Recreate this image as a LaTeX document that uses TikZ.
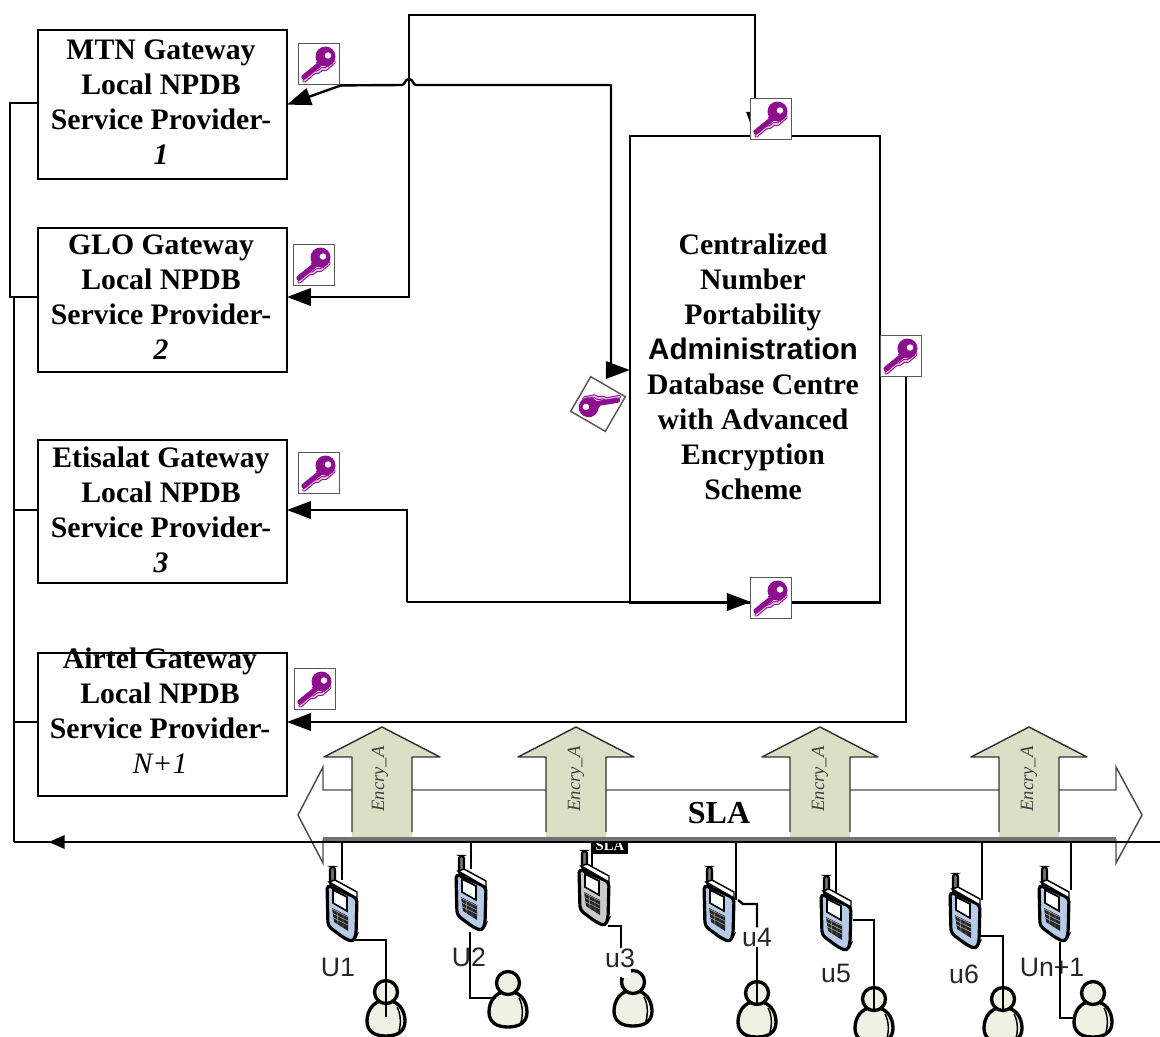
\documentclass[tikz,border=0pt]{standalone}
\usepackage{fontspec}
\setmainfont{Liberation Serif}
\newfontfamily\arialfont{Liberation Sans}
\usetikzlibrary{arrows.meta,calc,backgrounds}
\definecolor{keypurple}{HTML}{8E0F8E}
\definecolor{keylight}{HTML}{E3BEE3}
\definecolor{arrowfill}{HTML}{DADFC6}
\definecolor{phoneblue}{HTML}{B5CBE8}
\definecolor{phonegray}{HTML}{C9C9C9}
\definecolor{skin}{HTML}{EFF1E4}
\tikzset{
  line/.style={draw=black,line width=1.8pt},
  arr/.style={line,-{Triangle[length=18pt,width=13pt]},shorten >=-1pt},
  gwbox/.style={draw=black,line width=1.8pt,minimum width=187pt,anchor=north west,inner sep=0pt},
  boxtext/.style={font=\fontsize{22.3}{26.25}\selectfont\bfseries,align=center,inner sep=0pt},
  keybox/.style={draw=black!65,fill=white,line width=1.1pt,minimum size=31pt,inner sep=0pt},
  ghost/.style={inner sep=0pt,minimum width=25pt,minimum height=46pt},
  ughost/.style={inner sep=0pt,minimum size=18pt,circle},
  ulabel/.style={font=\arialfont\fontsize{20}{20}\selectfont,inner sep=0pt,text=black!85},
  encry/.style={font=\fontsize{14}{14}\selectfont\itshape,rotate=90,text=black!75,inner sep=0pt},
  keyglyph/.pic={
    \draw[keypurple,line width=2.8pt,line cap=round,line join=round] (-15,17)--(-5,8.5)--(-1,8)--(3,5)--(7,5)--(15,-2);
    \draw[keylight,line width=1.2pt,line cap=round,line join=round] (-15,17)--(-5,8.5)--(-1,8)--(3,5)--(7,5)--(15,-2);
    \draw[keypurple,line width=3.9pt,line cap=round] (-15,13)--(1,0);
    \fill[keypurple] (6.5,-7.5) circle[radius=10];
    \fill[keypurple] (-3,-1) -- (2,-12) -- (10,3) -- cycle;
    \fill[white] (9,-8.5) circle[radius=3.2];
  },
  uparrow/.pic={
    \fill[arrowfill] (-30,111)--(-30,30)--(-58,30)--(0,0)--(58,30)--(30,30)--(30,111)--cycle;
    \draw[black!80,line width=1.1pt,line join=round] (-30,105)--(-30,30)--(-58,30)--(0,0)--(58,30)--(30,30)--(30,105);
  },
  phone/.pic={
    \draw[black,line width=1.6pt,rounded corners=2pt,fill=black!55] (-12,-25)--(-12,-44)--(-7,-44)--(-7,-25)--cycle;
    \draw[black,line width=2.4pt,rounded corners=3pt,fill=\pgfkeysvalueof{/tikz/phonecol}] (-15,-26)--(15,-13)--(14,24)--(11,31)--(2,27)--(-14,15)--cycle;
    \draw[black,line width=1.1pt,fill=white] (-13,-29)--(-7,-31)--(15,-19)--(15,-13)--cycle;
    \draw[black,line width=1.2pt,fill=white] (-9,-21)--(5,-14)--(5,0)--(-9,-8)--cycle;
    \fill[black!85] (-10,-3)--(6,5)--(6,20)--(-8,11)--cycle;
    \foreach \d in {1,5,9} { \draw[white!70!black,line width=.35pt] (-10,-3+\d)--(6,5+\d); }
    \draw[white!70!black,line width=.35pt] (-5,-1)--(-4,14) (1,2)--(1,17);
  },
  person/.pic={
    \draw[black,line width=2.5pt,fill=skin] (-3,9) .. controls (-12,9) and (-19,18) .. (-19,29)
      .. controls (-19,39) and (-12,44) .. (0,44) .. controls (12,44) and (19,39) .. (19,29)
      .. controls (19,18) and (12,9) .. (3,9) -- cycle;
    \draw[black,line width=1.1pt] (11,15) .. controls (15,22) and (15,32) .. (13,39);
    \draw[black,line width=2.5pt,fill=skin] (0,0) circle[radius=11.5];
  },
  phonecol/.initial=phoneblue,
}
\begin{document}
\begin{tikzpicture}[x=0.75pt,y=-0.75pt]
\clip (0,0) rectangle (1160,1036);
% gateway boxes
\node[gwbox,minimum height=111.75pt] (b1) at (36.5,28.5) {};
\node[gwbox,minimum height=108pt] (b2) at (36.5,226.5) {};
\node[gwbox,minimum height=107.25pt] (b3) at (36.5,438.5) {};
\node[gwbox,minimum height=107.25pt] (b4) at (36.5,651.5) {};
\node[boxtext] (t1) at (161,102) {MTN Gateway\\Local NPDB\\Service Provider-\\\textit{1}};
\node[boxtext] (t2) at (161,297) {GLO Gateway\\Local NPDB\\Service Provider-\\\textit{2}};
\node[boxtext] (t3) at (161,510) {Etisalat Gateway\\Local NPDB\\Service Provider-\\\textit{3}};
\node[boxtext] (t4) at (160,711) {Airtel Gateway\\Local NPDB\\Service Provider-\\\textmd{\textit{N+1}}};
% centre box
\node[draw=black,line width=1.8pt,minimum width=187.5pt,minimum height=350pt,anchor=north west,inner sep=0pt] (c) at (628.5,134.5) {};
\node[boxtext] (ct) at (753,367) {Centralized\\Number\\Portability\\{\arialfont Administration}\\Database Centre\\with Advanced\\Encryption\\Scheme};
% key boxes
\node[keybox] (k1) at (319,64) {};
\node[keybox] (k2) at (314,265) {};
\node[keybox] (k3) at (319,473) {};
\node[keybox] (k4) at (315,689) {};
\node[keybox] (k5) at (771,119) {};
\node[keybox] (k6) at (901,356) {};
\node[keybox] (k7) at (771,598) {};
\node[keybox,rotate=-30,minimum size=30pt] (k8) at (598,404) {};
% junction coordinates
\coordinate (j1) at (611,85);
\coordinate (j1b) at (611,370);
\coordinate (j2) at (409,15);
\coordinate (j2b) at (409,297);
\coordinate (j3) at (407,510);
\coordinate (j3b) at (407,602);
\coordinate (j4) at (906,722);
\coordinate (busL) at (14,842);
\coordinate (busR) at (1160,842);
\coordinate (busA) at (50,842);
% connectors among boxes
\begin{scope}[on background layer]
\draw[arr] (342,85) -- (b1.east);
\draw[line,line join=round] (k1.south east) -- (402,85) .. controls (405,85) and (405,79) .. (409,79) .. controls (413,79) and (413,85) .. (416,85) -- (j1) -- (j1b);
\draw[arr] (j1b) -- (c.west |- j1b);
\draw[arr] (k5.north -| 755,0) |- (j2) -- (j2b) -- (b2.east |- j2b);
\draw[arr] (755,100) -- (c.north -| 755,0);
\draw[arr] (j3b) -- (j3) -- (b3.east |- j3);
\draw[arr] (j3b) -- (k7.west |- j3b);
\draw[line] (k7.east |- j3b) -- (c.east |- j3b);
\draw[arr] (k6.south -| j4) -- (j4) -- (b4.east |- j4);
% left bus
\draw[line] (b1.west |- 0,103) -- (10,103) -- (10,297) -- (b2.west |- 0,297);
\draw[line] (14,297) -- (busL);
\draw[line] (14,510) -- (b3.west |- 0,510);
\draw[line] (14,722) -- (b4.west |- 0,722);
\end{scope}
% key glyphs
\foreach \k in {k1,k2,k3,k4,k5,k6,k7} { \pic at (\k) {keyglyph}; }
\pic[rotate=150] at (k8) {keyglyph};
% SLA arrow
\draw[black!70,fill=white,line width=1.1pt,line join=miter]
  (323,790)--(323,767)--(298,815)--(323,863)--(323,840)--(1116,840)--(1116,863)--(1142,815)--(1116,767)--(1116,790)--cycle;
\node[font=\fontsize{24}{24}\selectfont\bfseries,inner sep=0pt] (sla) at (719,813) {SLA};
% up arrows
\pic at (382,727) {uparrow};
\pic at (576,727) {uparrow};
\pic at (820,727) {uparrow};
\pic at (1029,727) {uparrow};
\node[encry] (e1) at (380,779) {Encry\_A};
\node[encry] (e2) at (576,779) {Encry\_A};
\node[encry] (e3) at (820,779) {Encry\_A};
\node[encry] (e4) at (1029,779) {Encry\_A};
% small SLA tag
\node[fill=black,text=white,font=\fontsize{11}{11}\selectfont\bfseries,inner sep=1.5pt,minimum width=27pt,minimum height=12pt] (tag) at (610,846) {SLA};
% bus
\draw[black!55,line width=2.5pt] (323,839) -- (1116,839);
\draw[arr,-{Triangle[length=12pt,width=10pt]}] (busR) -- (busA);
\draw[line] (busA) -- (busL);
% phones (anchors), persons
\node[ghost] (ph1) at (342,911) {};
\node[ghost] (ph2) at (471,900) {};
\node[ghost] (ph3) at (594,895) {};
\node[ghost] (ph4) at (719,911) {};
\node[ghost] (ph5) at (836,920) {};
\node[ghost] (ph6) at (965,918) {};
\node[ghost] (ph7) at (1054,911) {};
\node[ughost] (pe1) at (386,992) {};
\node[ughost] (pe2) at (508,983) {};
\node[ughost] (pe3) at (633,982) {};
\node[ughost] (pe4) at (757,993) {};
\node[ughost] (pe5) at (874,999) {};
\node[ughost] (pe6) at (1003,999) {};
\node[ughost] (pe7) at (1093,993) {};
% bus drops
\draw[line] (ph1.center |- busL) -- (ph1.north);
\draw[line] (ph2.center |- busL) -- (ph2.north);
\draw[line] (592,842) -- (592,866);
\draw[line] (ph4.east |- busL) -- (ph4.east |- 0,900);
\draw[line] (ph5.center |- busL) -- (ph5.center |- 0,895);
\draw[line] (ph6.east |- busL) -- (ph6.east |- 0,900);
\draw[line] (ph7.east |- busL) -- (ph7.east |- 0,890);
% phones
\pic at (ph1) {phone};
\pic at (ph2) {phone};
\pic[phonecol=phonegray] at (ph3) {phone};
\pic at (ph4) {phone};
\pic at (ph5) {phone};
\pic at (ph6) {phone};
\pic at (ph7) {phone};
% persons
\foreach \p in {pe1,pe2,pe3,pe4,pe5,pe6,pe7} { \pic at (\p) {person}; }
\fill[white] (612,966) rectangle (631,978);
% labels
\node[ulabel] (u1) at (338,967) {U1};
\node[ulabel] (u2) at (469,957) {U2};
\node[ulabel] (u3) at (620,958) {u3};
\node[ulabel] (u4) at (757,937) {u4};
\node[ulabel] (u5) at (836,973) {u5};
\node[ulabel] (u6) at (964,974) {u6};
\node[ulabel] (u7) at (1052,967) {Un+1};
% phone to person wires
\draw[line] (353,940) -| (pe1.center) -- ++(0,25);
\draw[line] (470,932) |- (pe2.west |- 0,998) ;
\draw[line] (608,926) -- (621,926) -- (u3.north -| 621,0);
\draw[line] (621,977) -- (621,985);
\draw[line] (738,900) -- (743,904) -- (757,904) -- (u4.north);
\draw[line] (u4.south) -- (pe4.center) -- ++(0,12);
\draw[line] (853,920) -| (pe5.center) -- ++(0,12);
\draw[line] (978,936) -| (pe6.center) -- ++(0,12);
\draw[line] (1060,942) |- (1076,1018);
\end{tikzpicture}
\end{document}
